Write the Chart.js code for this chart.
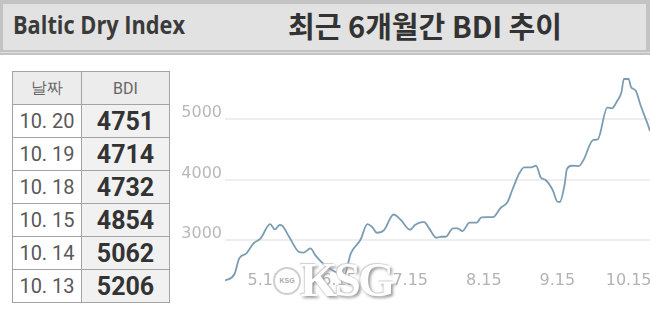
<!DOCTYPE html>
<html>
<head>
<meta charset="utf-8">
<script src="https://cdn.jsdelivr.net/npm/chart.js@4/dist/chart.umd.min.js"></script>
<style>
  html, body { margin: 0; padding: 0; background: #fff; width: 650px; height: 314px; overflow: hidden; }
  #hdr { position: absolute; left: 0; top: 0; width: 650px; height: 55px; background: #c3c3c3; }
  #hdrIn { position: absolute; left: 3px; top: 4px; width: 643px; height: 46px; background: #e2e2e2; }
  #hdrLine { position: absolute; left: 0; top: 52px; width: 650px; height: 1px; background: #dedede; }
  .hd { position: absolute; white-space: nowrap; transform-origin: left center; }
  #name { left: 13px; top: 12px; font: 700 25px/25px "Open Sans", sans-serif; color: #3a3a3a; }
  #title { left: 288px; top: 11px; font: 700 29px/29px "Noto Sans CJK KR", sans-serif; color: #333; }
  #tbl { position: absolute; left: 12px; top: 71px; border-collapse: collapse; }
  #tbl td, #tbl th { border: 1px solid #a3a3a3; padding: 0; text-align: center; height: 32px; }
  #tbl th { background: #ececec; font: 400 16px Roboto, sans-serif; color: #666; }
  #tbl td.d { width: 68px; background: #fff; font: 400 20px Roboto, sans-serif; color: #595959; }
  #tbl td.v { width: 87px; background: #f1f1f1; font: 700 25px Roboto, sans-serif; color: #333; }
  #wrap { position: absolute; left: 170px; top: 60px; width: 480px; height: 254px; }
  #mark { position: absolute; left: 300px; top: 252px; font: 700 48px "Liberation Serif", serif; color: #fff;
          text-shadow: 2px 2px 3px #9a9a9a, -1px -1px 1px #d0d0d0; letter-spacing: -3px; }
  #wheel { position: absolute; left: 273px; top: 267px; width: 24px; height: 24px; border-radius: 50%;
           background: #fff; border: 2px solid #cfcfcf; font: 700 7px sans-serif; color: #aaa; text-align: center; line-height: 24px; }
</style>
</head>
<body>
<div id="hdr"></div>
<div id="hdrIn"></div>
<div id="hdrLine"></div>
<div id="name" class="hd" data-w="172">Baltic Dry Index</div>
<div id="title" class="hd" data-w="274">최근 6개월간 BDI 추이</div>

<table id="tbl">
  <thead><tr><th>날짜</th><th>BDI</th></tr></thead>
  <tbody id="rows"></tbody>
</table>

<div id="wrap"><canvas id="bdiChart" width="480" height="254"></canvas></div>
<div id="wheel">KSG</div>
<div id="mark">KSG</div>

<script>
// table on the left
const tableDates = ['10. 20', '10. 19', '10. 18', '10. 15', '10. 14', '10. 13'];
const tableBdi = [4751, 4714, 4732, 4854, 5062, 5206];

// line chart
const lineDates = ['4.28', '5.2', '5.4', '5.7', '5.10', '5.13', '5.17', '5.19', '5.21', '5.22',
  '5.25', '5.29', '5.31', '6.3', '6.5', '6.9', '6.12', '6.16', '6.17', '6.20',
  '6.23', '6.24', '6.27', '6.29', '7.1', '7.4', '7.8', '7.11', '7.15', '7.17',
  '7.20', '7.21', '7.23', '7.26', '7.28', '7.30', '8.2', '8.4', '8.6', '8.9',
  '8.12', '8.14', '8.19', '8.22', '8.25', '8.27', '8.30', '9.1', '9.4', '9.6',
  '9.8', '9.10', '9.13', '9.15', '9.16', '9.18', '9.19', '9.21', '9.24', '9.26',
  '9.30', '10.2', '10.6', '10.8', '10.10', '10.12', '10.13', '10.15', '10.16', '10.18',
  '10.20', '10.23', '10.24'];
const lineValues = [2329, 2437, 2697, 2780, 2945, 3028, 3265, 3177, 3249, 3240,
  3055, 2806, 2790, 2862, 2751, 2586, 2503, 2420, 2387, 2780,
  2945, 3000, 3265, 3215, 3121, 3166, 3423, 3336, 3171, 3249,
  3298, 3295, 3194, 3038, 3055, 3055, 3194, 3194, 3149, 3287,
  3287, 3376, 3381, 3530, 3630, 3829, 4110, 4205, 4205, 4231,
  4036, 3994, 3829, 3635, 3630, 3911, 4176, 4231, 4226, 4326,
  4657, 4669, 5195, 5182, 5292, 5452, 5668, 5668, 5535, 5474,
  5237, 4922, 4806];
const xTickLabels = ['5.15', '6.15', '7.15', '8.15', '9.15', '10.15'];
const yTickValues = [3000, 4000, 5000];

// squeeze header texts to the widths seen in the picture
document.querySelectorAll('.hd').forEach(el => {
    const w = el.getBoundingClientRect().width;
    el.style.transform = `scaleX(${Number(el.dataset.w) / w})`;
});

const rowsEl = document.getElementById('rows');
tableDates.forEach((d, i) => {
    const tr = document.createElement('tr');
    tr.innerHTML = `<td class="d">${d}</td><td class="v">${tableBdi[i]}</td>`;
    rowsEl.appendChild(tr);
});

// 'M.D' -> days since 1 April
function dayNum(s) {
    const [m, d] = s.split('.').map(Number);
    return (Date.UTC(2021, m - 1, d) - Date.UTC(2021, 3, 1)) / 86400000;
}

const points = lineDates.map((d, i) => ({ x: dayNum(d), y: lineValues[i] }));
const xTicks = xTickLabels.map(dayNum);
const tickFont = { family: 'DejaVu Sans', size: 16 };

new Chart(document.getElementById('bdiChart').getContext('2d'), {
    type: 'line',
    data: {
        datasets: [{
            data: points,
            borderColor: '#7b9db4',
            borderWidth: 1.8,
            pointRadius: 0,
            cubicInterpolationMode: 'monotone',
            fill: false
        }]
    },
    options: {
        responsive: false,
        animation: false,
        devicePixelRatio: 1,
        layout: { padding: { top: 5, right: 0, left: 0, bottom: 0 } },
        plugins: { legend: { display: false }, tooltip: { enabled: false } },
        scales: {
            x: {
                type: 'linear',
                min: 27,
                max: 206,
                afterBuildTicks: s => { s.ticks = xTicks.map(v => ({ value: v })); },
                afterFit: s => { s.height = 31.7; s.paddingLeft = 0; s.paddingRight = 0; },
                grid: { display: false, drawTicks: false },
                border: { display: false },
                ticks: {
                    autoSkip: false,
                    maxRotation: 0,
                    mirror: true,
                    padding: -8,
                    color: '#b3b3b3',
                    font: tickFont,
                    callback: (v, i) => xTickLabels[i]
                }
            },
            y: {
                min: 2300,
                max: 5900,
                afterBuildTicks: s => { s.ticks = yTickValues.map(v => ({ value: v })); },
                afterFit: s => { s.width = 55; s.paddingTop = 0; s.paddingBottom = 0; },
                grid: { color: '#eeeeee', lineWidth: 2, drawTicks: false },
                border: { display: false },
                ticks: {
                    padding: 3,
                    labelOffset: -6,
                    color: '#b8b8b8',
                    font: tickFont,
                    callback: v => String(v)
                }
            }
        }
    }
});
</script>
</body>
</html>
